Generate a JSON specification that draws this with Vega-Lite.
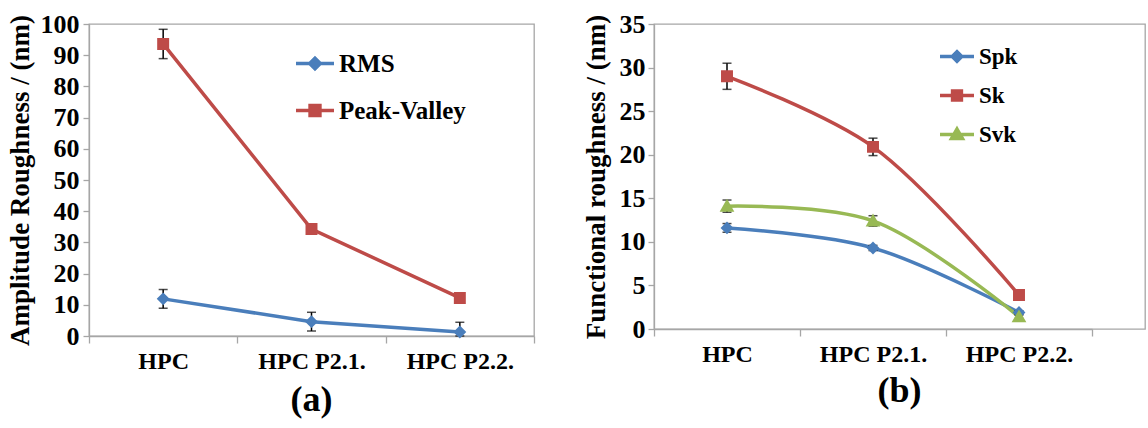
{
  "$schema": "https://vega.github.io/schema/vega-lite/v6.json",
  "background": "white",
  "padding": {"left": 5, "top": 10, "right": 0, "bottom": 0},
  "spacing": 45,
  "config": {
    "view": {"stroke": "#a6a6a6", "strokeWidth": 1.3},
    "font": "Liberation Serif",
    "axis": {
      "labelFont": "Liberation Serif", "labelFontWeight": "bold", "labelFontSize": 24, "labelColor": "black", "labelOverlap": false,
      "titleFont": "Liberation Serif", "titleFontWeight": "bold", "titleFontSize": 27, "titleColor": "black",
      "domainColor": "#a6a6a6", "tickColor": "#a6a6a6", "domainWidth": 1.3, "tickWidth": 1.3, "grid": false
    },
    "title": {"font": "Liberation Serif", "fontSize": 36, "fontWeight": "bold", "color": "black"}
  },
  "resolve": {"scale": {"color": "independent", "shape": "independent", "x": "independent", "y": "independent"}, "legend": {"color": "independent", "shape": "independent"}},
  "hconcat": [
    {
      "width": 445,
      "height": 312,
      "title": {"text": "(a)", "orient": "bottom", "offset": 10},
      "data": {"values": [
        {"cat": "HPC", "s": "RMS", "v": 11.9, "lo": 8.9, "hi": 14.9},
        {"cat": "HPC P2.1.", "s": "RMS", "v": 4.6, "lo": 1.6, "hi": 7.6},
        {"cat": "HPC P2.2.", "s": "RMS", "v": 1.3, "lo": 0, "hi": 4.4},
        {"cat": "HPC", "s": "Peak-Valley", "v": 93.6, "lo": 88.9, "hi": 98.3},
        {"cat": "HPC P2.1.", "s": "Peak-Valley", "v": 34.3, "lo": 33.6, "hi": 35.0},
        {"cat": "HPC P2.2.", "s": "Peak-Valley", "v": 12.2, "lo": 11.8, "hi": 12.6}
      ]},
      "encoding": {
        "x": {"field": "cat", "type": "nominal", "sort": ["HPC", "HPC P2.1.", "HPC P2.2."],
          "scale": {"type": "band", "paddingInner": 0, "paddingOuter": 0},
          "axis": {"title": null, "labelAngle": 0, "tickBand": "extent", "tickSize": 7, "labelPadding": 6}}
      },
      "layer": [
        {
          "mark": {"type": "line", "strokeWidth": 3.5},
          "encoding": {
            "y": {"field": "v", "type": "quantitative", "title": "Amplitude Roughness / (nm)", "scale": {"domain": [0, 100], "nice": false},
              "axis": {"values": [0, 10, 20, 30, 40, 50, 60, 70, 80, 90, 100], "tickSize": 6, "labelPadding": 4, "titlePadding": 6, "labelFontSize": 26}},
            "color": {"field": "s", "type": "nominal", "sort": ["RMS", "Peak-Valley"],
              "scale": {"domain": ["RMS", "Peak-Valley"], "range": ["#4a7ebb", "#be4b48"]},
              "legend": {
                "orient": "none", "legendX": 205, "legendY": 16, "title": null, "padding": 0,
                "symbolSize": 1444, "symbolStrokeWidth": 3.5, "clipHeight": 47,
                "labelFont": "Liberation Serif", "labelFontSize": 25, "labelFontWeight": "bold", "labelColor": "black",
                "labelOffset": 3, "rowPadding": 0
              }}
          }
        },
        {
          "mark": {"type": "errorbar", "color": "black", "thickness": 1.5, "ticks": {"size": 9, "color": "black", "thickness": 1.5}},
          "encoding": {
            "y": {"field": "lo", "type": "quantitative", "title": "Amplitude Roughness / (nm)",
              "axis": {"values": [0, 10, 20, 30, 40, 50, 60, 70, 80, 90, 100], "tickSize": 6, "labelPadding": 4, "titlePadding": 6, "labelFontSize": 26}},
            "y2": {"field": "hi"}
          }
        },
        {
          "mark": {"type": "point", "filled": true, "opacity": 1, "size": 2116},
          "encoding": {
            "y": {"field": "v", "type": "quantitative", "title": "Amplitude Roughness / (nm)",
              "axis": {"values": [0, 10, 20, 30, 40, 50, 60, 70, 80, 90, 100], "tickSize": 6, "labelPadding": 4, "titlePadding": 6, "labelFontSize": 26}},
            "color": {"field": "s", "type": "nominal", "legend": null},
            "shape": {"field": "s", "type": "nominal", "scale": {"domain": ["RMS", "Peak-Valley"], "range": ["M-1,0H1M0,-0.28L0.28,0L0,0.28L-0.28,0Z", "M-1,0H1M-0.26,-0.26H0.26V0.26H-0.26Z"]}, "legend": null}
          }
        }
      ]
    },
    {
      "width": 491,
      "height": 305,
      "title": {"text": "(b)", "orient": "bottom", "offset": 8},
      "data": {"values": [
        {"cat": "HPC", "s": "Spk", "v": 11.6, "lo": 11.1, "hi": 12.1},
        {"cat": "HPC P2.1.", "s": "Spk", "v": 9.3, "lo": 9.0, "hi": 9.6},
        {"cat": "HPC P2.2.", "s": "Spk", "v": 1.9, "lo": 1.7, "hi": 2.1},
        {"cat": "HPC", "s": "Sk", "v": 29.0, "lo": 27.5, "hi": 30.5},
        {"cat": "HPC P2.1.", "s": "Sk", "v": 20.9, "lo": 19.9, "hi": 21.9},
        {"cat": "HPC P2.2.", "s": "Sk", "v": 3.9, "lo": 3.6, "hi": 4.2},
        {"cat": "HPC", "s": "Svk", "v": 14.1, "lo": 13.4, "hi": 14.8},
        {"cat": "HPC P2.1.", "s": "Svk", "v": 12.4, "lo": 11.8, "hi": 13.0},
        {"cat": "HPC P2.2.", "s": "Svk", "v": 1.4, "lo": 1.2, "hi": 1.6}
      ]},
      "encoding": {
        "x": {"field": "cat", "type": "nominal", "sort": ["HPC", "HPC P2.1.", "HPC P2.2."],
          "scale": {"type": "band", "paddingInner": 0, "paddingOuter": 0, "range": [0, 438]},
          "axis": {"title": null, "labelAngle": 0, "tickBand": "extent", "tickSize": 7, "labelPadding": 6}}
      },
      "layer": [
        {
          "mark": {"type": "line", "strokeWidth": 3.5, "interpolate": "catmull-rom"},
          "encoding": {
            "y": {"field": "v", "type": "quantitative", "title": "Functional roughness / (nm)", "scale": {"domain": [0, 35], "nice": false},
              "axis": {"values": [0, 5, 10, 15, 20, 25, 30, 35], "tickSize": 6, "labelPadding": 3, "titlePadding": 9, "labelFontSize": 26}},
            "color": {"field": "s", "type": "nominal", "sort": ["Spk", "Sk", "Svk"],
              "scale": {"domain": ["Spk", "Sk", "Svk"], "range": ["#4a7ebb", "#be4b48", "#98b954"]},
              "legend": {
                "orient": "none", "legendX": 284, "legendY": 13, "title": null, "padding": 0,
                "symbolSize": 1156, "symbolStrokeWidth": 3.5, "clipHeight": 39,
                "labelFont": "Liberation Serif", "labelFontSize": 23, "labelFontWeight": "bold", "labelColor": "black",
                "labelOffset": 3, "rowPadding": 0
              }}
          }
        },
        {
          "mark": {"type": "errorbar", "color": "black", "thickness": 1.5, "ticks": {"size": 9, "color": "black", "thickness": 1.5}},
          "encoding": {
            "y": {"field": "lo", "type": "quantitative", "title": "Functional roughness / (nm)",
              "axis": {"values": [0, 5, 10, 15, 20, 25, 30, 35], "tickSize": 6, "labelPadding": 3, "titlePadding": 9, "labelFontSize": 26}},
            "y2": {"field": "hi"}
          }
        },
        {
          "mark": {"type": "point", "filled": true, "opacity": 1, "size": 2116},
          "encoding": {
            "y": {"field": "v", "type": "quantitative", "title": "Functional roughness / (nm)",
              "axis": {"values": [0, 5, 10, 15, 20, 25, 30, 35], "tickSize": 6, "labelPadding": 3, "titlePadding": 9, "labelFontSize": 26}},
            "color": {"field": "s", "type": "nominal", "legend": null},
            "shape": {"field": "s", "type": "nominal", "scale": {"domain": ["Spk", "Sk", "Svk"], "range": ["M-1,0H1M0,-0.28L0.28,0L0,0.28L-0.28,0Z", "M-1,0H1M-0.26,-0.26H0.26V0.26H-0.26Z", "M-1,0H1M0,-0.32L0.32,0.24H-0.32Z"]}, "legend": null}
          }
        }
      ]
    }
  ]
}
